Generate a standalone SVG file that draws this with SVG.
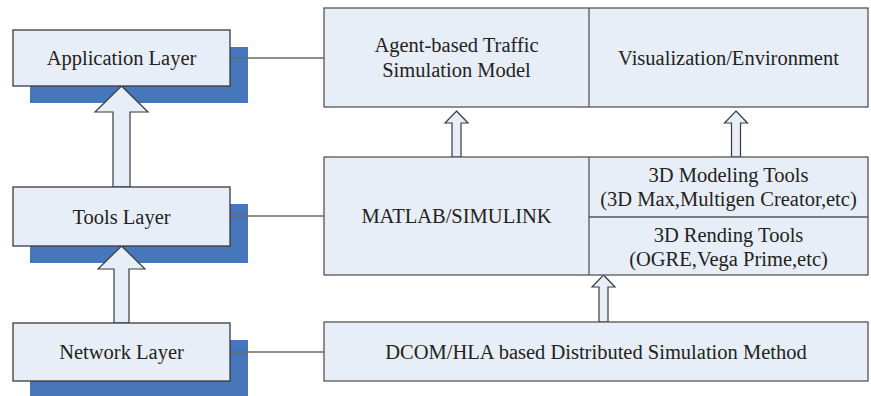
<svg xmlns="http://www.w3.org/2000/svg" width="871" height="396" viewBox="0 0 871 396">
<style>
.shadow{fill:#4876bb}
.box{fill:#e8eef7;stroke:#3a3a3a;stroke-width:1.3}
.rbox{fill:#e8eef7;stroke:#555;stroke-width:1.3}
.div{stroke:#555;stroke-width:1.3;fill:none}
.arrow{fill:#e8eef7;stroke:#3a3a3a;stroke-width:1.2;stroke-linejoin:miter}
.conn{stroke:#6a6a6a;stroke-width:1.5;fill:none}
.t{font-size:20.5px;fill:#222;text-anchor:middle}
</style>
<rect width="871" height="396" fill="#ffffff"/>
<g id="shadows">
<rect class="shadow" x="30" y="47" width="218" height="56"/>
<rect class="shadow" x="30" y="204" width="218" height="59"/>
<rect class="shadow" x="30" y="340" width="218" height="58"/>
</g>
<g id="connectors">
<line class="conn" x1="230" y1="58" x2="324" y2="58"/>
<line class="conn" x1="230" y1="216" x2="324" y2="216"/>
<line class="conn" x1="230" y1="352" x2="324" y2="352"/>
<polygon class="arrow" points="121.5,86 148,112 130,112 130,187 113,187 113,112 95,112"/>
<polygon class="arrow" points="121.5,246 145,269 129,269 129,323 114,323 114,269 98,269"/>
<polygon class="arrow" points="456.5,111 468,123 461,123 461,157 452,157 452,123 445,123"/>
<polygon class="arrow" points="736,111 747.5,123 740.5,123 740.5,157 731.5,157 731.5,123 724.5,123"/>
<polygon class="arrow" points="603.5,275 615,287 608,287 608,322 599,322 599,287 592,287"/>
</g>
<g id="application-layer">
<rect class="box" x="13" y="30" width="217" height="56"/>
<text class="t" font-family="Liberation Serif, serif" x="121.5" y="65">Application Layer</text>
</g>
<g id="tools-layer">
<rect class="box" x="13" y="187" width="217" height="59"/>
<text class="t" font-family="Liberation Serif, serif" x="121.5" y="223.5">Tools Layer</text>
</g>
<g id="network-layer">
<rect class="box" x="13" y="323" width="217" height="58"/>
<text class="t" font-family="Liberation Serif, serif" x="121.5" y="359">Network Layer</text>
</g>
<g id="application-box">
<rect class="rbox" x="324" y="8" width="544" height="99"/>
<line class="div" x1="589" y1="8" x2="589" y2="107"/>
<text class="t" font-family="Liberation Serif, serif" x="456.5" y="52">Agent-based Traffic</text>
<text class="t" font-family="Liberation Serif, serif" x="456.5" y="77">Simulation Model</text>
<text class="t" font-family="Liberation Serif, serif" x="728.5" y="64.5">Visualization/Environment</text>
</g>
<g id="tools-box">
<rect class="rbox" x="324" y="157" width="544" height="118"/>
<line class="div" x1="589" y1="157" x2="589" y2="275"/>
<line class="div" x1="589" y1="217" x2="868" y2="217"/>
<text class="t" font-family="Liberation Serif, serif" x="456.5" y="223">MATLAB/SIMULINK</text>
<text class="t" font-family="Liberation Serif, serif" x="728.5" y="182">3D Modeling Tools</text>
<text class="t" font-family="Liberation Serif, serif" x="728.5" y="206">(3D Max,Multigen Creator,etc)</text>
<text class="t" font-family="Liberation Serif, serif" x="728.5" y="242">3D Rending Tools</text>
<text class="t" font-family="Liberation Serif, serif" x="728.5" y="266">(OGRE,Vega Prime,etc)</text>
</g>
<g id="network-box">
<rect class="rbox" x="324" y="322" width="544" height="59"/>
<text class="t" font-family="Liberation Serif, serif" x="596" y="358.5">DCOM/HLA based Distributed Simulation Method</text>
</g>
</svg>
